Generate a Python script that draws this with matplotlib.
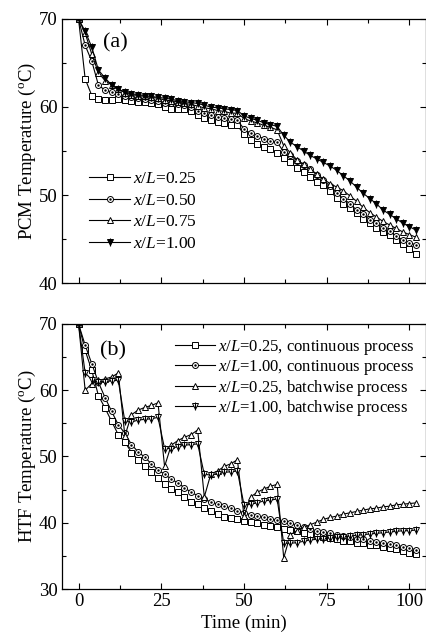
import numpy as np
import matplotlib
matplotlib.use('Agg')
import matplotlib.pyplot as plt
from matplotlib.ticker import MultipleLocator
from matplotlib.lines import Line2D

plt.rcParams['font.family'] = ['Liberation Serif', 'DejaVu Serif']
plt.rcParams['mathtext.fontset'] = 'custom'
plt.rcParams['mathtext.rm'] = 'Liberation Serif'
plt.rcParams['mathtext.it'] = 'Liberation Serif:italic'

# time (min)
time = [0, 2, 4, 6, 8, 10, 12, 14, 16, 18, 20, 22, 24, 26, 28, 30, 32, 34,
        36, 38, 40, 42, 44, 46, 48, 50, 52, 54, 56, 58, 60, 62, 64, 66, 68,
        70, 72, 74, 76, 78, 80, 82, 84, 86, 88, 90, 92, 94, 96, 98, 100, 102]

# (a) PCM temperature
pcm_025 = [70.0, 63.2, 61.3, 60.9, 60.8, 60.8, 60.9, 60.8, 60.7, 60.6, 60.6, 60.5,
           60.3, 60.0, 59.8, 59.8, 59.8, 59.5, 59.1, 58.8, 58.5, 58.3, 58.2, 58.0,
           57.9, 56.9, 56.3, 55.8, 55.5, 55.2, 54.8, 54.2, 53.7, 53.1, 52.6, 52.0,
           51.5, 51.1, 50.4, 49.7, 49.0, 48.5, 47.9, 47.3, 46.8, 46.3, 45.8, 45.4,
           44.9, 44.4, 43.9, 43.3]
pcm_050 = [70.0, 67.0, 65.2, 62.5, 61.9, 61.7, 61.5, 61.2, 61.1, 61.0, 60.9, 60.8,
           60.7, 60.5, 60.4, 60.3, 60.2, 60.0, 59.6, 59.3, 59.1, 58.9, 58.8, 58.6,
           58.5, 57.5, 57.0, 56.7, 56.4, 56.1, 56.0, 54.9, 54.5, 53.9, 53.4, 52.9,
           52.3, 51.7, 51.0, 50.2, 49.6, 49.0, 48.3, 47.8, 47.2, 46.8, 46.3, 45.9,
           45.3, 44.9, 44.6, 44.3]
pcm_075 = [70.0, 68.4, 66.0, 63.9, 63.0, 62.5, 62.1, 61.6, 61.4, 61.3, 61.2, 61.1,
           61.0, 60.8, 60.7, 60.6, 60.4, 60.3, 60.1, 59.9, 59.8, 59.6, 59.5, 59.3,
           59.3, 58.7, 58.4, 58.2, 57.9, 57.7, 57.4, 55.6, 54.8, 54.0, 53.5, 52.9,
           52.4, 51.8, 51.3, 50.9, 50.5, 49.9, 49.3, 48.6, 48.0, 47.5, 47.0, 46.6,
           46.2, 45.8, 45.5, 45.2]
pcm_100 = [70.0, 68.6, 66.8, 64.2, 63.3, 62.5, 62.0, 61.7, 61.5, 61.4, 61.3, 61.2,
           61.1, 61.0, 60.9, 60.7, 60.6, 60.5, 60.4, 60.2, 60.0, 59.9, 59.8, 59.7,
           59.6, 59.0, 58.7, 58.5, 58.2, 58.0, 57.8, 56.8, 56.0, 55.5, 55.0, 54.5,
           54.1, 53.7, 53.3, 52.8, 52.2, 51.6, 50.9, 50.2, 49.6, 49.0, 48.3, 47.8,
           47.3, 46.8, 46.4, 46.0]

# (b) HTF temperature
htf_cont_025 = [70.0, 66.0, 63.0, 59.2, 57.3, 55.3, 53.3, 52.2, 50.6, 49.5, 48.6, 47.7,
                46.7, 45.9, 45.1, 44.6, 43.9, 43.2, 42.8, 42.2, 41.7, 41.3, 40.9, 40.7,
                40.5, 40.3, 40.1, 39.9, 39.7, 39.5, 39.3, 39.1, 38.9, 38.7, 38.5, 38.3,
                38.1, 37.9, 37.7, 37.5, 37.3, 37.2, 37.0, 36.9, 36.7, 36.6, 36.4, 36.2,
                36.0, 35.8, 35.5, 35.3]
htf_cont_100 = [70.0, 66.8, 64.0, 61.2, 58.9, 56.8, 54.8, 53.5, 51.8, 50.7, 49.9, 48.9,
                48.0, 47.3, 46.6, 46.0, 45.3, 44.6, 44.1, 43.6, 43.1, 42.8, 42.5, 42.2,
                41.8, 41.5, 41.2, 41.0, 40.8, 40.6, 40.4, 40.2, 39.9, 39.6, 39.3, 39.0,
                38.8, 38.6, 38.4, 38.2, 38.0, 37.8, 37.6, 37.5, 37.3, 37.1, 37.0, 36.8,
                36.6, 36.4, 36.2, 35.9]
htf_batch_025 = [70.0, 60.0, 61.0, 61.5, 61.7, 62.0, 62.6, 53.1, 56.3, 57.0, 57.4, 57.7,
                 58.1, 48.5, 51.7, 52.4, 52.9, 53.3, 54.0, 43.9, 47.4, 47.8, 48.5, 48.9,
                 49.5, 41.0, 43.9, 44.6, 45.1, 45.5, 45.8, 34.7, 38.2, 38.8, 39.3, 39.7,
                 40.1, 40.5, 40.8, 41.0, 41.3, 41.5, 41.7, 41.9, 42.1, 42.2, 42.4, 42.5,
                 42.7, 42.8, 42.9, 43.0]
htf_batch_100 = [70.0, 62.6, 61.6, 61.3, 61.3, 61.4, 61.5, 55.3, 55.2, 55.5, 55.6, 55.7,
                 55.9, 51.2, 51.2, 51.5, 51.7, 51.8, 51.9, 47.3, 47.2, 47.4, 47.6, 47.7,
                 47.8, 42.7, 42.8, 43.0, 43.3, 43.4, 43.6, 36.9, 36.9, 37.0, 37.2, 37.4,
                 37.5, 37.6, 37.7, 37.8, 37.9, 38.0, 38.1, 38.2, 38.3, 38.4, 38.5, 38.6,
                 38.7, 38.8, 38.8, 38.9]

FS = 13.5
LW = 0.8
MS = 4.0


def plot_series(ax, y, kind, filled=False):
    # draw one series in the Origin-like symbol style
    face = 'k' if filled else 'white'
    if kind == 'square':
        ax.plot(time, y, color='k', lw=LW, marker='s', ms=MS, mfc='white', mec='k', mew=0.7)
    elif kind == 'circle':
        ax.plot(time, y, color='k', lw=LW, marker='o', ms=MS + 0.3, mfc='white', mec='k', mew=0.7)
        ax.plot(time, y, ls='none', marker='.', ms=1.5, color='k')
    elif kind == 'triangle':
        ax.plot(time, y, color='k', lw=LW, marker='^', ms=MS + 1, mfc='white', mec='k', mew=0.7)
    elif kind == 'star':
        ax.plot(time, y, color='k', lw=LW, marker='v', ms=MS + 0.5, mfc=face, mec='k', mew=0.7)
        ax.plot(time, y, ls='none', marker='|', ms=MS + 1.5, mec='k', mew=0.8)


def handle(kind, filled=False):
    face = 'k' if filled else 'white'
    if kind == 'square':
        return Line2D([], [], color='k', lw=LW, marker='s', ms=MS, mfc='white', mew=0.7)
    if kind == 'circle':
        return (Line2D([], [], color='k', lw=LW, marker='o', ms=MS + 0.3, mfc='white', mew=0.7),
                Line2D([], [], ls='none', marker='.', ms=1.5, color='k'))
    if kind == 'triangle':
        return Line2D([], [], color='k', lw=LW, marker='^', ms=MS + 1, mfc='white', mew=0.7)
    return (Line2D([], [], color='k', lw=LW, marker='v', ms=MS + 0.5, mfc=face, mew=0.7),
            Line2D([], [], ls='none', marker='|', ms=MS + 1.5, mec='k', mew=0.8))


def style_axes(ax, ylo, yhi, show_x):
    ax.set_xlim(-5, 105)
    ax.set_ylim(ylo, yhi)
    ax.xaxis.set_major_locator(MultipleLocator(25))
    ax.xaxis.set_minor_locator(MultipleLocator(12.5))
    ax.yaxis.set_major_locator(MultipleLocator(10))
    ax.yaxis.set_minor_locator(MultipleLocator(5))
    ax.tick_params(which='both', direction='in', top=True, right=True, labelsize=FS, width=0.8)
    ax.tick_params(which='major', length=4.5, pad=3)
    ax.tick_params(which='minor', length=3)
    if not show_x:
        ax.tick_params(labelbottom=False)
    for s in ax.spines.values():
        s.set_linewidth(0.9)


fig = plt.figure(figsize=(4.27, 6.33), dpi=100)
ax1 = fig.add_axes([0.1452, 0.5529, 0.8525, 0.4171])
ax2 = fig.add_axes([0.1452, 0.0695, 0.8525, 0.4187])

# panel (a)
plot_series(ax1, pcm_025, 'square')
plot_series(ax1, pcm_050, 'circle')
plot_series(ax1, pcm_075, 'triangle')
plot_series(ax1, pcm_100, 'star', filled=True)
style_axes(ax1, 40, 70, False)
ax1.set_ylabel('PCM Temperature ($^{\\rm o}$C)', fontsize=FS, labelpad=1)
ax1.text(0.112, 0.91, '(a)', transform=ax1.transAxes, fontsize=16, va='center', ha='left')
ax1.legend([handle('square'), handle('circle'), handle('triangle'), handle('star', True)],
           ['$x/L$=0.25', '$x/L$=0.50', '$x/L$=0.75', '$x/L$=1.00'],
           loc='lower left', bbox_to_anchor=(0.04, 0.07), frameon=False, fontsize=12.5,
           handlelength=2.4, handletextpad=0.15, labelspacing=0.33, borderpad=0.2)

# panel (b)
plot_series(ax2, htf_cont_025, 'square')
plot_series(ax2, htf_cont_100, 'circle')
plot_series(ax2, htf_batch_025, 'triangle')
plot_series(ax2, htf_batch_100, 'star')
style_axes(ax2, 30, 70, True)
ax2.set_ylabel('HTF Temperature ($^{\\rm o}$C)', fontsize=FS, labelpad=1)
ax2.set_xlabel('Time (min)', fontsize=FS, labelpad=3)
ax2.text(0.105, 0.90, '(b)', transform=ax2.transAxes, fontsize=16, va='center', ha='left')
ax2.legend([handle('square'), handle('circle'), handle('triangle'), handle('star')],
           ['$x/L$=0.25, continuous process', '$x/L$=1.00, continuous process',
            '$x/L$=0.25, batchwise process', '$x/L$=1.00, batchwise process'],
           loc='upper right', bbox_to_anchor=(1.0, 0.99), frameon=False, fontsize=12,
           handlelength=2.4, handletextpad=0.15, labelspacing=0.04, borderpad=0.2)

fig.savefig('out.png', dpi=100)
